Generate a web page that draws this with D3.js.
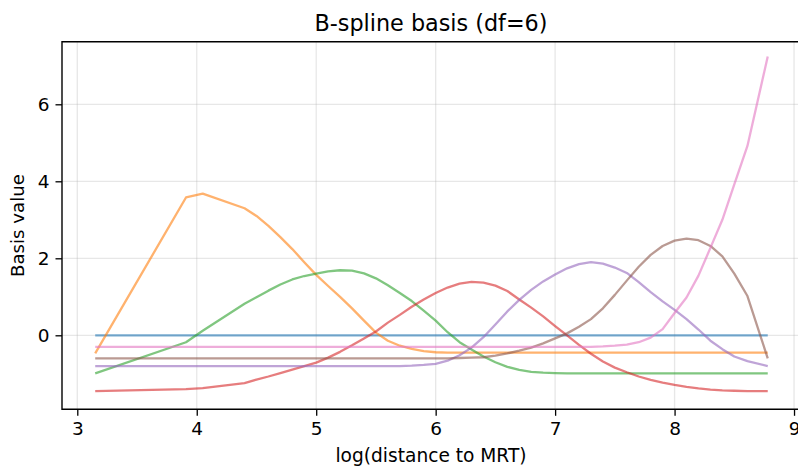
<!DOCTYPE html>
<html>
<head>
<meta charset="utf-8">
<script src="https://cdn.jsdelivr.net/npm/d3@7/dist/d3.min.js"></script>
<style>
  html, body { margin: 0; padding: 0; background: #ffffff; }
  svg { display: block; font-family: "DejaVu Sans", sans-serif; }
</style>
</head>
<body>
<svg id="chart" width="798" height="467"></svg>
<script>
// log(distance to MRT) sample positions shared by every basis column
const logDist = [3.15, 3.91, 4.05, 4.4,
  4.5, 4.6, 4.7, 4.8, 4.9, 5.0, 5.1, 5.2, 5.3, 5.4, 5.5, 5.6, 5.7, 5.8, 5.9, 6.0,
  6.1, 6.2, 6.3, 6.4, 6.5, 6.6, 6.7, 6.8, 6.9, 7.0, 7.1, 7.2, 7.3, 7.4, 7.5, 7.6,
  7.7, 7.8, 7.9, 8.0, 8.1, 8.2, 8.3, 8.4, 8.5, 8.61, 8.78];

// standardized B-spline basis columns (df=6), plus the constant column
const basis0 = [0, 0, 0, 0,
  0, 0, 0, 0, 0, 0, 0, 0, 0, 0, 0, 0, 0, 0, 0, 0,
  0, 0, 0, 0, 0, 0, 0, 0, 0, 0, 0, 0, 0, 0, 0, 0,
  0, 0, 0, 0, 0, 0, 0, 0, 0, 0, 0];
const basis1 = [-0.47, 3.58, 3.68, 3.30,
  3.10, 2.84, 2.55, 2.24, 1.90, 1.57, 1.28, 1.00, 0.70, 0.38, 0.07, -0.14, -0.27, -0.35, -0.41, -0.44,
  -0.45, -0.45, -0.45, -0.45, -0.45, -0.45, -0.45, -0.45, -0.45, -0.45, -0.45, -0.45, -0.45, -0.45, -0.45, -0.45,
  -0.45, -0.45, -0.45, -0.45, -0.45, -0.45, -0.45, -0.45, -0.45, -0.45, -0.45];
const basis2 = [-0.99, -0.18, 0.12, 0.82,
  0.99, 1.16, 1.32, 1.45, 1.54, 1.60, 1.66, 1.69, 1.68, 1.61, 1.48, 1.30, 1.10, 0.89, 0.64, 0.38,
  0.08, -0.18, -0.37, -0.55, -0.70, -0.82, -0.90, -0.95, -0.97, -0.98, -0.99, -0.99, -0.99, -0.99, -0.99, -0.99,
  -0.99, -0.99, -0.99, -0.99, -0.99, -0.99, -0.99, -0.99, -0.99, -0.99, -0.99];
const basis3 = [-1.45, -1.40, -1.37, -1.24,
  -1.15, -1.07, -0.98, -0.89, -0.80, -0.71, -0.58, -0.43, -0.26, -0.08, 0.10, 0.33, 0.53, 0.74, 0.93, 1.10,
  1.24, 1.34, 1.39, 1.37, 1.29, 1.15, 0.93, 0.72, 0.49, 0.24, 0.00, -0.25, -0.48, -0.68, -0.84, -0.96,
  -1.07, -1.16, -1.23, -1.29, -1.34, -1.38, -1.41, -1.43, -1.44, -1.45, -1.45];
const basis4 = [-0.80, -0.80, -0.80, -0.80,
  -0.80, -0.80, -0.80, -0.80, -0.80, -0.80, -0.80, -0.80, -0.80, -0.80, -0.80, -0.80, -0.80, -0.79, -0.77, -0.74,
  -0.66, -0.52, -0.32, -0.05, 0.28, 0.62, 0.92, 1.18, 1.40, 1.58, 1.74, 1.85, 1.90, 1.86, 1.76, 1.62,
  1.38, 1.12, 0.88, 0.66, 0.42, 0.15, -0.14, -0.36, -0.55, -0.67, -0.80];
const basis5 = [-0.60, -0.60, -0.60, -0.60,
  -0.60, -0.60, -0.60, -0.60, -0.60, -0.60, -0.60, -0.60, -0.60, -0.60, -0.60, -0.60, -0.60, -0.60, -0.60, -0.60,
  -0.60, -0.59, -0.58, -0.57, -0.53, -0.47, -0.40, -0.32, -0.21, -0.08, 0.05, 0.22, 0.42, 0.70, 1.05, 1.42,
  1.78, 2.09, 2.32, 2.46, 2.51, 2.47, 2.32, 2.05, 1.60, 1.02, -0.60];
const basis6 = [-0.30, -0.30, -0.30, -0.30,
  -0.30, -0.30, -0.30, -0.30, -0.30, -0.30, -0.30, -0.30, -0.30, -0.30, -0.30, -0.30, -0.30, -0.30, -0.30, -0.30,
  -0.30, -0.30, -0.30, -0.30, -0.30, -0.30, -0.30, -0.30, -0.30, -0.30, -0.30, -0.30, -0.30, -0.29, -0.27, -0.24,
  -0.18, -0.06, 0.16, 0.58, 0.98, 1.55, 2.27, 3.00, 3.92, 4.92, 7.24];

const columns = [basis0, basis1, basis2, basis3, basis4, basis5, basis6];
const colors = ["#1f77b4", "#ff7f0e", "#2ca02c", "#d62728", "#9467bd", "#8c564b", "#e377c2"];

const xTicks = [3, 4, 5, 6, 7, 8, 9];
const yTicks = [0, 2, 4, 6];
const xLimits = [2.872, 9.05];
const yLimits = [-1.922, 7.626];

const titleText = "B-spline basis (df=6)";
const xLabel = "log(distance to MRT)";
const yLabel = "Basis value";

// plot frame
const frame = { left: 62, top: 41.7, right: 800, bottom: 409.3 };
const svg = d3.select("#chart");

const x = d3.scaleLinear().domain(xLimits).range([frame.left, frame.right]);
const y = d3.scaleLinear().domain(yLimits).range([frame.bottom, frame.top]);

// grid
const grid = svg.append("g").attr("class", "grid");
grid.selectAll("line.gx").data(xTicks).join("line")
  .attr("x1", d => x(d)).attr("x2", d => x(d))
  .attr("y1", frame.top).attr("y2", frame.bottom)
  .attr("stroke", "#b0b0b0").attr("stroke-opacity", 0.3).attr("stroke-width", 1.3);
grid.selectAll("line.gy").data(yTicks).join("line")
  .attr("x1", frame.left).attr("x2", frame.right)
  .attr("y1", d => y(d)).attr("y2", d => y(d))
  .attr("stroke", "#b0b0b0").attr("stroke-opacity", 0.3).attr("stroke-width", 1.3);

// basis curves
const line = d3.line()
  .x((d, i) => x(logDist[i]))
  .y(d => y(d));

svg.append("g").attr("class", "curves")
  .selectAll("path").data(columns).join("path")
  .attr("d", d => line(d))
  .attr("fill", "none")
  .attr("stroke", (d, i) => colors[i])
  .attr("stroke-width", 2.3)
  .attr("stroke-opacity", 0.6)
  .attr("stroke-linejoin", "round")
  .attr("stroke-linecap", "butt");

// axes
const xAxis = d3.axisBottom(x).tickValues(xTicks).tickFormat(d3.format("d"))
  .tickSize(6.5).tickPadding(6);
const yAxis = d3.axisLeft(y).tickValues(yTicks).tickFormat(d3.format("d"))
  .tickSize(6.5).tickPadding(6);

const gx = svg.append("g").attr("transform", `translate(0,${frame.bottom})`).call(xAxis);
const gy = svg.append("g").attr("transform", `translate(${frame.left},0)`).call(yAxis);

[gx, gy].forEach(g => {
  g.select(".domain").remove();
  g.selectAll(".tick line").attr("stroke", "#000").attr("stroke-width", 1.3);
  g.selectAll(".tick text").attr("fill", "#000").attr("font-size", 18.5)
    .attr("font-family", "DejaVu Sans, sans-serif");
});

// spines (left, top, bottom)
svg.append("path")
  .attr("d", `M${frame.right},${frame.top}H${frame.left}V${frame.bottom}H${frame.right}`)
  .attr("fill", "none").attr("stroke", "#000").attr("stroke-width", 1.4);

// title and axis labels
svg.append("text")
  .attr("x", (frame.left + frame.right) / 2).attr("y", 30.5)
  .attr("text-anchor", "middle").attr("font-size", 22.3).attr("fill", "#000")
  .text(titleText);

svg.append("text")
  .attr("x", (frame.left + frame.right) / 2).attr("y", 462)
  .attr("text-anchor", "middle").attr("font-size", 18.6).attr("fill", "#000")
  .text(xLabel);

svg.append("text")
  .attr("transform", `translate(24,${(frame.top + frame.bottom) / 2}) rotate(-90)`)
  .attr("text-anchor", "middle").attr("font-size", 18.2).attr("fill", "#000")
  .text(yLabel);
</script>
</body>
</html>
